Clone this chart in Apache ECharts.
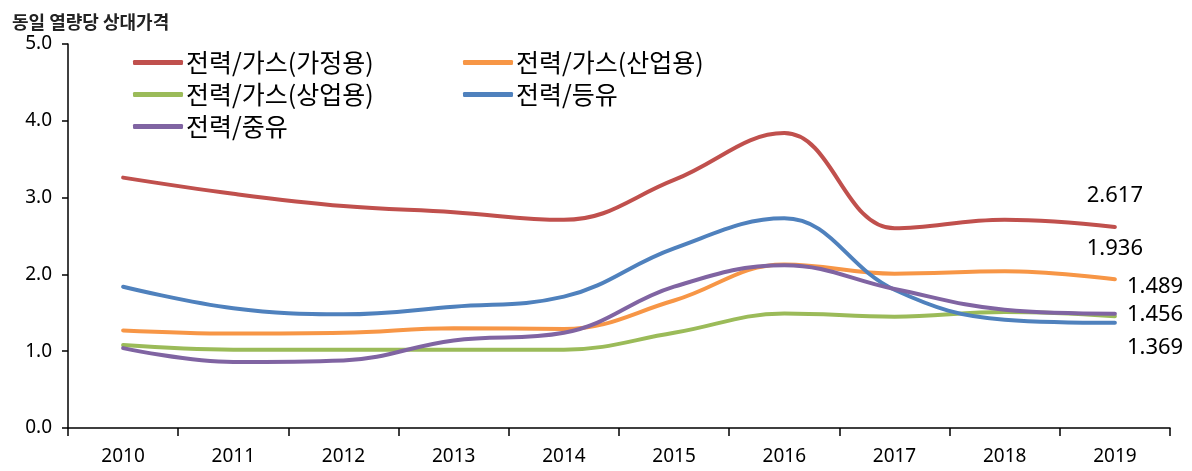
<!DOCTYPE html>
<html>
<head>
<meta charset="utf-8">
<script src="https://cdn.jsdelivr.net/npm/echarts@6/dist/echarts.min.js"></script>
<style>
  html, body { margin: 0; padding: 0; background: #fff; }
  #chart { width: 1192px; height: 471px; }
</style>
</head>
<body>
<div id="chart"></div>
<script>
// 동일 열량당 상대가격
const years = ["2010", "2011", "2012", "2013", "2014", "2015", "2016", "2017", "2018", "2019"];
const seriesNames = ["전력/가스(가정용)", "전력/가스(산업용)", "전력/가스(상업용)", "전력/등유", "전력/중유"];
const gasHome = [3.26, 3.05, 2.89, 2.81, 2.71, 3.23, 3.84, 2.60, 2.71, 2.617];
const gasIndustry = [1.27, 1.23, 1.24, 1.30, 1.29, 1.66, 2.13, 2.01, 2.04, 1.936];
const gasCommerce = [1.08, 1.02, 1.02, 1.02, 1.02, 1.24, 1.49, 1.45, 1.51, 1.456];
const kerosene = [1.84, 1.56, 1.48, 1.58, 1.71, 2.34, 2.73, 1.80, 1.41, 1.369];
const heavyOil = [1.04, 0.86, 0.88, 1.14, 1.24, 1.84, 2.12, 1.81, 1.54, 1.489];
const yTicks = ["0.0", "1.0", "2.0", "3.0", "4.0", "5.0"];

const colors = ["#C0504D", "#F79646", "#9BBB59", "#4F81BD", "#8064A2"];
const allData = [gasHome, gasIndustry, gasCommerce, kerosene, heavyOil];
// where the last-value label sits relative to the final point
const endLabelPos = [
  { align: "center", offset: [0, -31] },
  { align: "center", offset: [0, -31] },
  { align: "left", offset: [12, -1] },
  { align: "left", offset: [12, 25] },
  { align: "left", offset: [12, -27] }
];

const numFont = "'Noto Sans', 'Liberation Sans', sans-serif";
const krFont = "'Noto Sans CJK KR', 'Noto Sans', sans-serif";

function buildData(vals, idx) {
  return vals.map((v, i) => {
    if (i !== vals.length - 1) return v;
    return {
      value: v,
      label: {
        show: true,
        position: "inside",
        align: endLabelPos[idx].align,
        verticalAlign: "middle",
        offset: endLabelPos[idx].offset,
        formatter: () => v.toFixed(3),
        color: "#000",
        fontSize: 22,
        fontFamily: numFont
      }
    };
  });
}

const legendBase = {
  orient: "vertical",
  top: 50,
  padding: 0,
  itemGap: 7,
  itemWidth: 50,
  itemHeight: 5,
  icon: "roundRect",
  textStyle: { fontSize: 25, color: "#000", fontFamily: krFont, padding: [0, 0, 0, -2] }
};

const chart = echarts.init(document.getElementById("chart"));
chart.setOption({
  animation: false,
  title: {
    text: "동일 열량당 상대가격",
    left: 7,
    top: 8,
    textStyle: { fontSize: 18, fontWeight: "bold", color: "#222", fontFamily: krFont }
  },
  legend: [
    Object.assign({}, legendBase, {
      data: [seriesNames[0], seriesNames[2], seriesNames[4]],
      left: 133
    }),
    Object.assign({}, legendBase, {
      data: [seriesNames[1], seriesNames[3]],
      left: 463
    })
  ],
  grid: { left: 68, right: 22, top: 44, bottom: 43, containLabel: false },
  xAxis: {
    type: "category",
    data: years,
    boundaryGap: true,
    axisLine: { lineStyle: { color: "#000", width: 1.5 } },
    axisTick: { show: true, length: 8, lineStyle: { color: "#000", width: 1.5 } },
    axisLabel: { color: "#000", fontSize: 19, margin: 19, fontFamily: numFont },
    splitLine: { show: false }
  },
  yAxis: {
    type: "value",
    min: 0,
    max: 5,
    interval: 1,
    axisLine: { show: true, lineStyle: { color: "#000", width: 1.5 } },
    axisTick: { show: true, length: 6, lineStyle: { color: "#000", width: 1.5 } },
    axisLabel: {
      color: "#000",
      fontSize: 19,
      margin: 16,
      fontFamily: numFont,
      formatter: (v) => yTicks[Math.round(v)]
    },
    splitLine: { show: false }
  },
  series: allData.map((vals, idx) => ({
    name: seriesNames[idx],
    type: "line",
    data: buildData(vals, idx),
    smooth: 0.4,
    symbol: "circle",
    symbolSize: 0,
    showSymbol: true,
    showAllSymbol: true,
    color: colors[idx],
    itemStyle: { color: colors[idx], borderWidth: 0 },
    lineStyle: { width: 4, color: colors[idx], cap: "round" },
    z: idx === 4 ? 3 : 2
  }))
});
</script>
</body>
</html>
